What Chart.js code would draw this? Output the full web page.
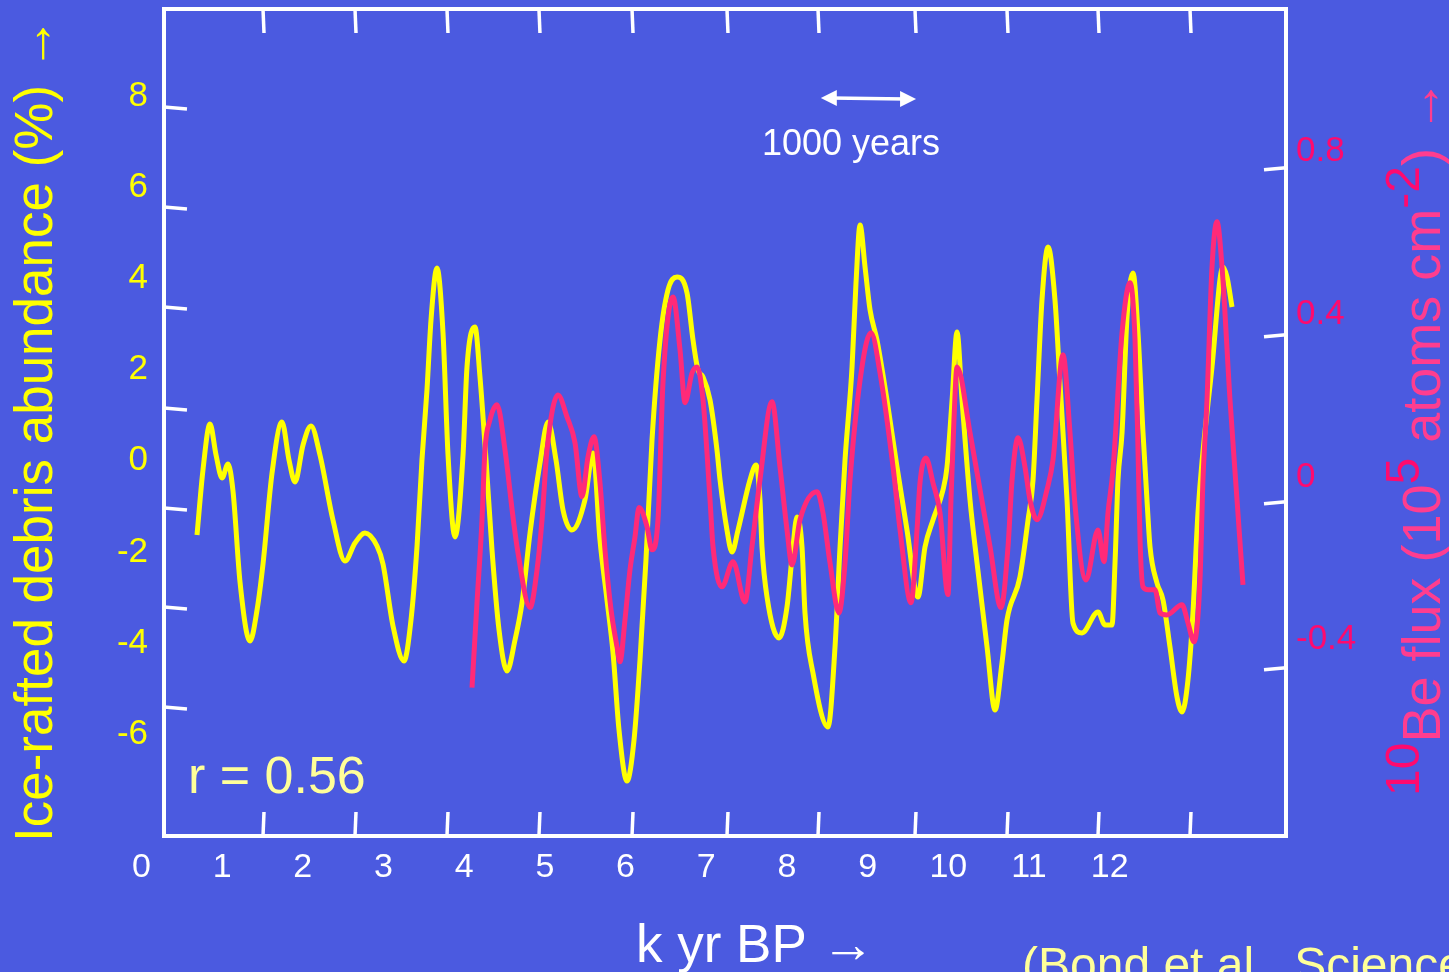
<!DOCTYPE html>
<html>
<head>
<meta charset="utf-8">
<script src="https://cdn.jsdelivr.net/npm/chart.js@4.4.1/dist/chart.umd.min.js"></script>
<style>
html,body{margin:0;padding:0;background:#4B5AE0;overflow:hidden}
#wrap{width:1449px;height:972px;position:relative}
canvas{display:block}
</style>
</head>
<body>
<div id="wrap"><canvas id="c" width="1449" height="972"></canvas></div>
<script>
// ---------- data ----------
const xTickLabels = [0,1,2,3,4,5,6,7,8,9,10,11,12];
const leftTickLabels = [8,6,4,2,0,-2,-4,-6];
const rightTickLabels = [0.8,0.4,0,-0.4];

// tick marks of the original frame (in axis units)
const frameTicksX = [1.507,2.647,3.787,4.927,6.080,7.257,8.385,9.587,10.727,11.855,12.995];
const frameTicksLeft = [7.764,5.570,3.375,1.159,-1.036,-3.208,-5.402];
const frameTicksRight = [0.7605,0.3499,-0.0607,-0.4689];

// Ice-rafted debris abundance (%)
const ageIRD = [0.689,0.763,0.850,0.925,0.999,1.073,1.135,1.222,1.346,1.433,1.507,1.619,1.742,1.829,1.904,2.003,2.102,2.213,2.374,2.523,2.647,2.771,2.920,2.994,3.118,3.254,3.341,3.416,3.477,3.539,3.589,3.663,3.738,3.800,3.886,3.986,4.035,4.134,4.196,4.271,4.345,4.432,4.531,4.630,4.717,4.816,4.940,5.039,5.138,5.225,5.336,5.497,5.597,5.683,5.770,5.845,5.919,6.018,6.105,6.179,6.253,6.328,6.427,6.526,6.638,6.762,6.836,6.898,6.960,7.047,7.133,7.171,7.257,7.319,7.394,7.542,7.617,7.666,7.691,7.753,7.902,8.001,8.075,8.125,8.187,8.224,8.323,8.509,8.596,8.658,8.720,8.807,8.856,8.906,8.968,9.030,9.116,9.240,9.364,9.488,9.624,9.711,9.810,9.934,9.984,10.047,10.108,10.170,10.269,10.356,10.480,10.579,10.665,10.727,10.888,10.988,11.050,11.099,11.161,11.236,11.322,11.384,11.471,11.545,11.657,11.855,11.942,12.029,12.066,12.103,12.153,12.215,12.289,12.351,12.413,12.462,12.500,12.586,12.661,12.747,12.834,12.896,12.970,13.032,13.094,13.268,13.404,13.454,13.516];
const irdValues = [-1.628,-0.202,0.808,0.127,-0.377,-0.070,-0.663,-2.660,-3.954,-3.274,-2.265,-0.268,0.851,0.018,-0.465,0.347,0.764,0.127,-1.299,-2.199,-1.804,-1.584,-1.870,-2.265,-3.625,-4.393,-3.494,-1.870,0.018,1.554,3.090,4.231,2.804,0.127,-1.672,0.127,2.058,2.936,1.839,0.018,-1.957,-3.713,-4.613,-3.932,-3.120,-1.584,-0.048,0.851,0.018,-1.080,-1.519,-0.860,0.171,-1.738,-3.055,-4.218,-5.907,-7.027,-6.127,-4.371,-2.177,0.456,2.651,3.748,4.033,3.682,2.651,1.993,1.839,1.334,0.237,-0.421,-1.519,-2.001,-1.519,-0.421,-0.092,-0.860,-1.892,-2.989,-3.889,-3.208,-1.892,-1.233,-1.892,-3.340,-4.657,-5.842,-4.086,-1.892,0.018,2.058,3.902,5.174,4.253,3.309,2.651,1.334,-0.136,-1.519,-2.989,-1.892,-1.299,-0.641,-0.136,1.334,2.826,1.334,-0.860,-2.243,-4.086,-5.469,-4.437,-3.494,-2.550,-1.299,-0.421,1.334,3.529,4.692,3.529,1.707,-0.860,-3.559,-3.779,-3.318,-3.603,-3.603,-2.243,-0.421,0.610,3.156,4.121,2.804,0.610,-0.860,-1.892,-2.682,-3.055,-4.086,-5.183,-5.512,-4.810,-3.340,-1.145,2.058,4.253,4.033,3.375];

// 10Be flux (10^5 atoms cm^-2)
const ageBe = [4.097,4.159,4.221,4.258,4.320,4.407,4.506,4.605,4.667,4.816,4.903,4.965,5.027,5.163,5.274,5.374,5.460,5.535,5.609,5.683,5.745,5.820,5.894,5.931,5.993,6.055,6.117,6.167,6.266,6.328,6.402,6.464,6.588,6.675,6.737,6.824,6.886,6.960,7.047,7.084,7.195,7.332,7.480,7.567,7.666,7.815,7.914,8.001,8.063,8.162,8.373,8.447,8.534,8.645,8.720,8.782,8.930,9.042,9.154,9.315,9.402,9.538,9.612,9.649,9.723,9.810,9.897,9.996,10.033,10.070,10.108,10.269,10.393,10.517,10.653,10.740,10.790,10.864,10.950,11.012,11.099,11.223,11.298,11.421,11.508,11.570,11.706,11.855,11.929,11.979,12.041,12.153,12.252,12.314,12.351,12.376,12.413,12.475,12.562,12.623,12.710,12.896,12.970,13.045,13.119,13.156,13.206,13.268,13.330,13.392,13.491,13.578,13.652];
const beValues = [-0.518,-0.309,-0.105,0.067,0.141,0.178,0.067,-0.098,-0.186,-0.321,-0.228,-0.105,0.067,0.202,0.148,0.084,-0.048,0.050,0.099,-0.014,-0.179,-0.326,-0.417,-0.454,-0.351,-0.228,-0.147,-0.075,-0.122,-0.179,-0.105,0.232,0.443,0.313,0.183,0.256,0.271,0.190,-0.056,-0.171,-0.270,-0.208,-0.307,-0.171,-0.007,0.185,0.025,-0.130,-0.216,-0.105,-0.036,-0.088,-0.211,-0.334,-0.211,-0.007,0.271,0.355,0.256,0.025,-0.130,-0.309,-0.130,-0.014,0.047,-0.014,-0.088,-0.289,-0.056,0.141,0.271,0.109,-0.031,-0.171,-0.321,-0.171,-0.007,0.097,0.025,-0.056,-0.105,-0.031,0.043,0.301,0.109,-0.068,-0.253,-0.130,-0.208,-0.088,0.018,0.355,0.478,0.338,0.067,-0.154,-0.270,-0.277,-0.277,-0.334,-0.339,-0.314,-0.358,-0.405,-0.253,-0.007,0.190,0.517,0.628,0.517,0.190,-0.056,-0.265];

// ---------- styling ----------
const BG = '#4B5AE0';
const FONT = '"Liberation Sans", Arial, Helvetica, sans-serif';
const YELLOW = '#FFFF00';
const PINK_LINE = '#FF2A78';
const PINK_TICK = '#FF0A6E';
const PINK_TEXT = '#FF3D8F';
const PALE = '#FFFF99';

const irdData = ageIRD.map((x,i)=>({x:x, y:irdValues[i]}));
const beData = ageBe.map((x,i)=>({x:x, y:beValues[i]}));

function zeroPad(scale){ scale.paddingTop=0; scale.paddingBottom=0; scale.paddingLeft=0; scale.paddingRight=0; }

const decor = {
  id:'decor',
  beforeDraw(chart){
    const ctx = chart.ctx;
    ctx.save(); ctx.fillStyle = BG; ctx.fillRect(0,0,chart.width,chart.height); ctx.restore();
  },
  afterDraw(chart){
    const ctx = chart.ctx, a = chart.chartArea, s = chart.scales;
    ctx.save();
    // frame
    ctx.strokeStyle = '#FFFFFF'; ctx.lineWidth = 4;
    ctx.strokeRect(a.left, a.top, a.right-a.left, a.bottom-a.top);
    const seg = (x1,y1,x2,y2)=>{ctx.beginPath();ctx.moveTo(x1,y1);ctx.lineTo(x2,y2);ctx.stroke();};
    ctx.lineWidth = 3.5;
    frameTicksX.forEach(v=>{
      const px = s.x.getPixelForValue(v);
      seg(px, a.top, px+1, a.top+24);
      seg(px, a.bottom, px+1, a.bottom-24);
    });
    frameTicksLeft.forEach(v=>{
      const py = s.yL.getPixelForValue(v);
      seg(a.left, py, a.left+23, py+2);
    });
    frameTicksRight.forEach(v=>{
      const py = s.yR.getPixelForValue(v);
      seg(a.right, py, a.right-22, py+2);
    });

    // scale bar "1000 years"
    const xb1 = s.x.getPixelForValue(8.42), xb2 = s.x.getPixelForValue(9.60);
    const yb = s.yL.getPixelForValue(7.96);
    ctx.fillStyle = '#FFFFFF'; ctx.strokeStyle = '#FFFFFF'; ctx.lineWidth = 3.5;
    seg(xb1+10, yb, xb2-10, yb+1);
    ctx.beginPath(); ctx.moveTo(xb1, yb); ctx.lineTo(xb1+16, yb-8); ctx.lineTo(xb1+16, yb+8); ctx.closePath(); ctx.fill();
    ctx.beginPath(); ctx.moveTo(xb2, yb+1); ctx.lineTo(xb2-16, yb-7); ctx.lineTo(xb2-16, yb+9); ctx.closePath(); ctx.fill();
    ctx.font = '36px ' + FONT; ctx.textAlign = 'center'; ctx.textBaseline = 'alphabetic';
    ctx.fillText('1000 years', 851, 155);

    // r = 0.56
    ctx.fillStyle = PALE; ctx.font = '52px ' + FONT; ctx.textAlign = 'left';
    ctx.fillText('r = 0.56', 188, 793);

    // x title
    ctx.fillStyle = '#FFFFFF'; ctx.font = '53px ' + FONT;
    ctx.fillText('k yr BP \u2192', 636, 962);

    // citation
    ctx.fillStyle = PALE; ctx.font = '48px ' + FONT;
    ctx.fillText('(Bond et al., Science, 2001)', 1022, 981);

    // left title
    ctx.save();
    ctx.translate(52, 842); ctx.rotate(-Math.PI/2);
    ctx.fillStyle = YELLOW; ctx.font = '53px ' + FONT; ctx.textAlign = 'left';
    ctx.fillText('Ice-rafted debris abundance (%) \u2192', 0, 0);
    ctx.restore();

    // right title with superscripts
    ctx.save();
    ctx.translate(1440, 796); ctx.rotate(-Math.PI/2);
    ctx.textAlign = 'left';
    const parts = [
      {t:'10', sup:true}, {t:'Be flux (10'}, {t:'5', sup:true},
      {t:' atoms cm'}, {t:'-2', sup:true}, {t:') \u2192'}
    ];
    let cx = 0;
    parts.forEach(p=>{
      if (p.sup){ ctx.font = '48px ' + FONT; ctx.fillStyle = PINK_TICK; ctx.fillText(p.t, cx, -21); }
      else { ctx.font = '54px ' + FONT; ctx.fillStyle = PINK_TEXT; ctx.fillText(p.t, cx, 0); }
      cx += ctx.measureText(p.t).width;
    });
    ctx.restore();
    ctx.restore();
  }
};

const ctx = document.getElementById('c').getContext('2d');
new Chart(ctx, {
  type: 'line',
  data: {
    datasets: [
      { label: '10Be flux', data: beData, yAxisID: 'yR', borderColor: PINK_LINE, borderWidth: 5,
        pointRadius: 0, cubicInterpolationMode: 'monotone', fill: false, order: 0 },
      { label: 'Ice-rafted debris', data: irdData, yAxisID: 'yL', borderColor: YELLOW, borderWidth: 5,
        pointRadius: 0, cubicInterpolationMode: 'monotone', fill: false, order: 1 }
    ]
  },
  options: {
    responsive: false, animation: false, devicePixelRatio: 1,
    layout: { padding: { left: 54, right: 63, top: 9, bottom: 76 } },
    plugins: { legend: { display: false }, tooltip: { enabled: false } },
    scales: {
      x: {
        type: 'linear', position: 'bottom', min: 0.280, max: 14.185,
        grid: { display: false, drawTicks: false }, border: { display: false },
        afterBuildTicks: sc => { sc.ticks = xTickLabels.map(v=>({value:v})); },
        afterFit: sc => { sc.height = 60; zeroPad(sc); },
        ticks: { autoSkip: false, maxRotation: 0, color: '#FFFFFF', padding: 11,
                 font: { family: FONT, size: 34 }, callback: v => String(v) }
      },
      yL: {
        type: 'linear', position: 'left', min: -8.234, max: 9.914,
        grid: { display: false, drawTicks: false }, border: { display: false },
        afterBuildTicks: sc => { sc.ticks = leftTickLabels.map(v=>({value:v})); },
        afterFit: sc => { sc.width = 110; zeroPad(sc); },
        ticks: { autoSkip: false, color: YELLOW, padding: 16,
                 font: { family: FONT, size: 35 }, callback: v => String(v) }
      },
      yR: {
        type: 'linear', position: 'right', min: -0.8827, max: 1.1512,
        grid: { display: false, drawTicks: false }, border: { display: false },
        afterBuildTicks: sc => { sc.ticks = rightTickLabels.map(v=>({value:v})); },
        afterFit: sc => { sc.width = 100; zeroPad(sc); },
        ticks: { autoSkip: false, color: PINK_TICK, padding: 10,
                 font: { family: FONT, size: 35 }, callback: v => String(v) }
      }
    }
  },
  plugins: [decor]
});
</script>
</body>
</html>
